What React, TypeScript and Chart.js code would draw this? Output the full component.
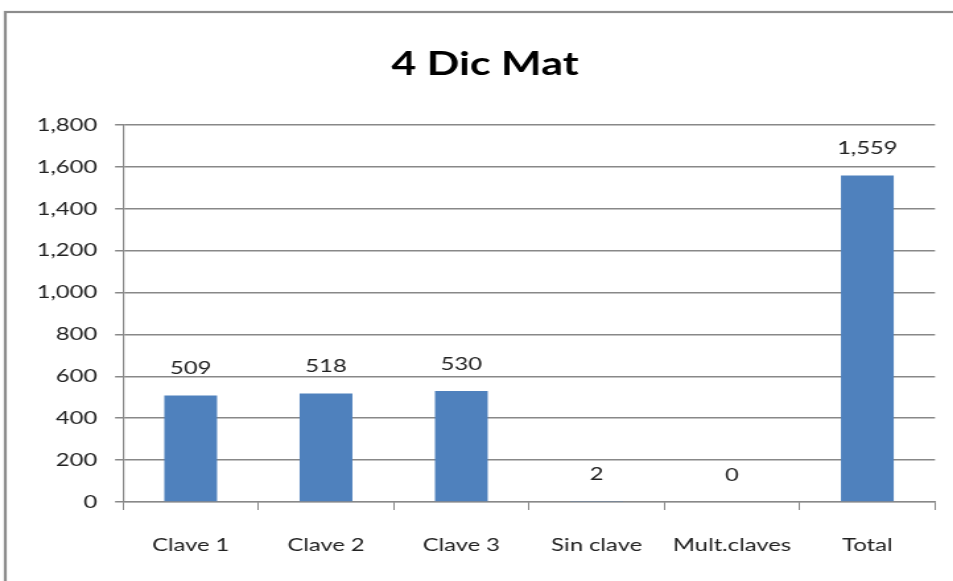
import React, { useEffect, useRef } from "react";
import { Chart, registerables } from "chart.js";

Chart.register(...registerables);

const categories = ["Clave 1", "Clave 2", "Clave 3", "Sin clave", "Mult.claves", "Total"];
const values = [509, 518, 530, 2, 0, 1559];
const titleText = "4 Dic Mat";
const FONT = "Lato, 'Open Sans', sans-serif";

// The reference is horizontally stretched; draw narrower and stretch with CSS.
const STRETCH = 1.32;
const OUT_W = 953;
const OUT_H = 581;
const IN_W = Math.round(OUT_W / STRETCH);

const fmt = (v: number) => v.toLocaleString("en-US");

const framePlugin = {
  id: "frame",
  beforeDraw(chart: any) {
    const ctx = chart.ctx;
    ctx.save();
    ctx.fillStyle = "#ffffff";
    ctx.fillRect(0, 0, chart.width, chart.height);
    ctx.strokeStyle = "#8c8c8c";
    ctx.lineWidth = 2.2;
    ctx.strokeRect(4, 12, chart.width + 20, chart.height + 20);
    // title
    ctx.fillStyle = "#000";
    ctx.font = `bold 32.5px ${FONT}`;
    ctx.textAlign = "center";
    ctx.textBaseline = "alphabetic";
    ctx.fillText(titleText, 485 / STRETCH, 75);
    ctx.restore();
  },
};

const labelPlugin = {
  id: "barLabels",
  afterDatasetsDraw(chart: any) {
    const ctx = chart.ctx;
    const meta = chart.getDatasetMeta(0);
    ctx.save();
    ctx.font = `18px ${FONT}`;
    ctx.fillStyle = "#222";
    ctx.textAlign = "center";
    ctx.textBaseline = "middle";
    meta.data.forEach((bar: any, i: number) => {
      ctx.fillText(fmt(values[i]), bar.x, bar.y - 27);
    });
    ctx.restore();
  },
};

export default function App() {
  const ref = useRef<HTMLCanvasElement>(null);
  useEffect(() => {
    const chart = new Chart(ref.current!, {
      type: "bar",
      data: {
        labels: categories,
        datasets: [
          {
            data: values,
            backgroundColor: "#4F81BD",
            barPercentage: 0.39,
            categoryPercentage: 1,
          },
        ],
      },
      options: {
        animation: false,
        responsive: false,
        devicePixelRatio: 1,
        layout: { padding: { left: 0, right: IN_W - 935 / STRETCH, top: 125, bottom: 0 } },
        plugins: {
          legend: { display: false },
          tooltip: { enabled: false },
          title: { display: false },
        },
        scales: {
          x: {
            offset: true,
            grid: {
              offset: true,
              drawOnChartArea: false,
              tickLength: 8,
              color: "#888",
            },
            border: { color: "#888", width: 1.2 },
            ticks: { font: { family: FONT, size: 18 }, color: "#222", padding: 24 },
            afterFit(scale: any) {
              scale.height = 79;
            },
          },
          y: {
            min: 0,
            max: 1800,
            ticks: {
              stepSize: 200,
              font: { family: FONT, size: 18 },
              color: "#222",
              padding: 13.5,
              callback: (v: any) => fmt(Number(v)),
            },
            grid: { color: "#888", lineWidth: 1.5, tickLength: 6 },
            border: { color: "#888", width: 1.2 },
            afterFit(scale: any) {
              scale.width = 123 / STRETCH;
            },
          },
        },
      },
      plugins: [framePlugin, labelPlugin],
    });
    return () => chart.destroy();
  }, []);
  return (
    <div style={{ position: "fixed", left: 0, top: 0, width: OUT_W, height: OUT_H, overflow: "hidden" }}>
      <div style={{ transform: `scaleX(${STRETCH})`, transformOrigin: "0 0", width: IN_W, height: OUT_H }}>
        <canvas ref={ref} width={IN_W} height={OUT_H} style={{ display: "block" }} />
      </div>
    </div>
  );
}
